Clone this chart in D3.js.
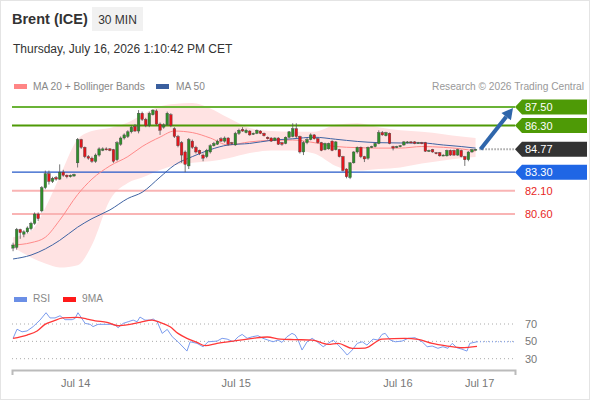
<!DOCTYPE html>
<html>
<head>
<meta charset="utf-8">
<script src="https://cdn.jsdelivr.net/npm/d3@7"></script>
<style>
  html, body { margin: 0; padding: 0; background: #fff; }
  svg { display: block; font-family: "Liberation Sans", Arial, sans-serif; }
</style>
</head>
<body>
<div id="chart"></div>
<script>
// 30 min candles, [open, high, low, close]
const candles = [
  [78.40, 78.75, 78.20, 78.60], [78.45, 79.70, 78.30, 79.60], [79.60, 79.65, 79.00, 79.40], [79.30, 79.55, 79.10, 79.45],
  [79.45, 79.80, 79.35, 79.70], [79.65, 80.10, 79.55, 80.00], [80.00, 80.70, 79.90, 80.60], [80.60, 80.70, 80.15, 80.30],
  [80.80, 82.40, 80.70, 82.30], [82.30, 83.40, 82.20, 83.20], [83.20, 83.40, 82.50, 82.70], [82.70, 83.00, 82.60, 82.90],
  [82.95, 83.05, 82.75, 82.85], [82.85, 83.80, 82.80, 83.30], [83.30, 83.45, 83.00, 83.10], [83.10, 83.15, 82.90, 83.00],
  [83.00, 83.15, 82.95, 83.10], [83.05, 83.20, 83.00, 83.15], [83.90, 85.50, 83.60, 85.40], [85.40, 85.45, 84.80, 84.90],
  [84.90, 84.95, 84.20, 84.30], [84.30, 84.40, 84.10, 84.20], [84.20, 84.30, 83.90, 84.00], [84.00, 84.50, 83.90, 84.40],
  [84.40, 84.90, 84.30, 84.80], [84.70, 84.90, 84.65, 84.80], [84.80, 84.90, 84.70, 84.75], [84.80, 84.85, 84.65, 84.70],
  [84.75, 84.80, 83.90, 84.00], [84.10, 85.30, 84.00, 85.20], [85.10, 85.60, 85.00, 85.50], [85.50, 85.80, 85.40, 85.70],
  [85.60, 86.00, 85.50, 85.90], [85.90, 86.30, 85.80, 86.20], [86.25, 86.40, 85.90, 85.95], [85.95, 87.30, 85.80, 87.10],
  [87.10, 87.20, 86.60, 86.70], [86.70, 86.80, 86.20, 86.30], [86.30, 87.20, 86.20, 87.10], [87.00, 87.35, 86.95, 87.30],
  [87.25, 87.35, 86.30, 86.40], [86.40, 86.50, 85.70, 86.00], [86.20, 86.45, 86.10, 86.35], [86.35, 87.20, 86.30, 87.10],
  [87.00, 87.10, 86.20, 86.30], [86.10, 86.20, 85.50, 85.60], [85.60, 85.70, 84.90, 85.00], [85.20, 85.30, 83.90, 84.40],
  [84.60, 84.70, 83.30, 83.80], [83.70, 85.50, 83.50, 85.40], [85.30, 85.40, 84.80, 84.90], [84.90, 85.00, 84.50, 84.60],
  [84.70, 84.75, 84.40, 84.50], [84.40, 84.50, 84.00, 84.20], [84.30, 84.80, 84.20, 84.70], [84.60, 85.10, 84.50, 85.00],
  [85.00, 85.25, 84.95, 85.15], [85.10, 85.40, 85.05, 85.30], [85.45, 85.55, 85.25, 85.30], [85.30, 85.60, 85.20, 85.50],
  [85.50, 85.55, 85.00, 85.10], [85.20, 85.25, 85.05, 85.15], [85.05, 85.90, 85.00, 85.80], [85.80, 86.10, 85.70, 86.00],
  [86.05, 86.20, 85.90, 85.95], [85.85, 86.10, 85.80, 86.00], [85.95, 86.00, 85.65, 85.70], [85.75, 85.85, 85.70, 85.80],
  [85.80, 86.05, 85.75, 86.00], [85.95, 86.00, 85.75, 85.80], [85.80, 85.85, 85.60, 85.65], [85.55, 85.60, 85.40, 85.45],
  [85.50, 85.55, 85.25, 85.30], [85.35, 85.55, 85.30, 85.50], [85.50, 85.55, 85.05, 85.10], [85.20, 85.25, 85.00, 85.10],
  [85.15, 85.60, 85.10, 85.55], [85.55, 85.95, 85.50, 85.90], [85.60, 86.45, 85.55, 86.10], [86.10, 86.45, 85.50, 85.60],
  [85.60, 85.65, 84.50, 84.60], [84.60, 85.30, 84.40, 85.20], [85.20, 85.50, 85.10, 85.40], [85.40, 85.80, 85.35, 85.70],
  [85.70, 85.75, 85.40, 85.45], [85.45, 85.50, 85.15, 85.20], [85.20, 85.25, 84.65, 84.70], [84.75, 85.20, 84.70, 85.15],
  [84.80, 85.20, 84.75, 85.15], [85.30, 85.35, 84.65, 84.70], [84.75, 85.30, 84.70, 85.25], [84.75, 84.80, 84.25, 84.30],
  [84.30, 84.35, 83.35, 83.40], [83.50, 83.55, 82.90, 83.00], [82.95, 83.95, 82.85, 83.90], [83.90, 84.65, 83.85, 84.60],
  [84.60, 84.95, 84.50, 84.90], [84.90, 84.95, 84.20, 84.30], [84.30, 84.35, 83.95, 84.15], [84.20, 84.95, 84.10, 84.90],
  [84.90, 85.00, 84.85, 84.95], [84.95, 85.20, 84.90, 85.15], [85.15, 86.00, 85.10, 85.85], [85.85, 85.95, 85.65, 85.70],
  [85.65, 85.90, 85.60, 85.85], [85.80, 85.85, 85.10, 85.15], [84.95, 85.00, 84.70, 84.85], [84.90, 85.00, 84.85, 84.95],
  [84.95, 85.05, 84.90, 85.00], [85.05, 85.30, 85.00, 85.25], [85.20, 85.30, 85.15, 85.25], [85.25, 85.30, 85.15, 85.20],
  [85.25, 85.30, 85.10, 85.15], [85.20, 85.25, 85.15, 85.20], [85.20, 85.25, 85.10, 85.15], [85.20, 85.25, 84.60, 84.65],
  [84.65, 84.75, 84.60, 84.70], [84.75, 84.80, 84.55, 84.60], [84.55, 84.60, 84.45, 84.50], [84.55, 84.60, 84.30, 84.35],
  [84.40, 84.45, 84.35, 84.40], [84.35, 84.75, 84.30, 84.70], [84.70, 84.75, 84.35, 84.40], [84.70, 84.75, 84.35, 84.40],
  [84.40, 84.80, 84.35, 84.75], [84.70, 84.75, 84.25, 84.30], [84.30, 84.35, 83.70, 84.10], [84.10, 84.65, 84.00, 84.60],
  [84.60, 84.80, 84.55, 84.75], [84.75, 84.80, 84.70, 84.77]
];

// indicator samples (bar index -> value)
const bandIdx   = [0, 5, 9, 13, 18, 22, 27, 32, 36, 41, 45, 50, 55, 60, 66, 72, 78, 84, 90, 96, 102, 108, 114, 120, 125, 129];
const bandUpper = [79.1, 79.5, 81.0, 83.0, 85.4, 85.95, 86.15, 86.5, 87.0, 87.55, 87.7, 87.75, 87.4, 86.8, 86.15, 85.95, 85.9, 85.9, 86.35, 86.45, 86.2, 86.0, 85.9, 85.75, 85.6, 85.5];
const bandLower = [78.47, 77.8, 77.4, 77.15, 77.3, 78.6, 81.5, 82.6, 82.95, 83.44, 83.75, 83.9, 84.0, 84.2, 84.53, 84.7, 84.7, 84.5, 83.7, 83.4, 83.5, 83.6, 83.85, 84.05, 84.2, 84.27];
const ma20      = [78.6, 78.75, 79.1, 80.2, 81.85, 82.85, 83.7, 84.3, 84.95, 85.56, 85.95, 85.85, 85.5, 85.05, 85.25, 85.35, 85.37, 85.2, 84.95, 84.88, 84.85, 84.85, 84.95, 84.9, 84.8, 84.66];
const ma50      = [77.7, 77.95, 78.35, 78.9, 79.75, 80.3, 80.86, 81.6, 82.0, 82.98, 83.75, 84.3, 84.75, 85.05, 85.15, 85.35, 85.45, 85.55, 85.42, 85.28, 85.2, 85.18, 85.18, 85.05, 84.95, 84.85];

const rsi = [
  [0, 53.5], [1.1, 64], [2.5, 61], [3.9, 62], [5.6, 67], [7.5, 74.5], [9.2, 83], [10.3, 77], [11.7, 77], [13.1, 79.5],
  [14.5, 75], [16.5, 75], [17.3, 76.5], [18.1, 83], [20.1, 70.7], [21.5, 69.6], [22.3, 67], [23.7, 69.6], [25.1, 69.6],
  [27.1, 69.6], [28.5, 68.8], [29.3, 65.7], [30.7, 70.7], [32.1, 72.6], [33.5, 74.5], [34.6, 72.6], [35.4, 78], [36.8, 74.5],
  [38.2, 74.5], [39.1, 75.7], [40.2, 72.6], [41.6, 59.2], [43, 63.8], [44.4, 55.3], [46, 49.5], [48.5, 38.8], [49.4, 49.5],
  [51.3, 47.7], [53, 43.8], [54.4, 49.5], [56.9, 50.3], [58.3, 53.5], [59.7, 52.6], [61.4, 49.5], [62.8, 55.3], [63.9, 58],
  [65.3, 53.5], [66.7, 55.3], [68.3, 56.5], [69.7, 53.5], [71.1, 51.5], [72.5, 49.5], [73.9, 51.5], [75, 48.8], [76.4, 55.3],
  [77.8, 59.2], [78.7, 57.3], [79.5, 51.5], [80.6, 40], [82, 49.5], [83.4, 53.5], [84.8, 49.5], [86.5, 43.8], [87.9, 47.7],
  [89.3, 51.5], [90.7, 45.7], [92, 40], [93.2, 34.2], [94.6, 40], [96, 47.7], [97.4, 49.5], [98.7, 45.7], [100.4, 52.6],
  [101.8, 51.5], [102.9, 58], [103.8, 59.2], [105.2, 51.5], [106.6, 49.5], [108.5, 50.3], [110.2, 53.5], [112.1, 54.2],
  [114.1, 49.5], [115.5, 43.8], [116.9, 44.6], [118.5, 42], [119.9, 43.8], [121.3, 42], [122.5, 47.7], [123.8, 42.6],
  [125.2, 41], [126.6, 38.8], [127.4, 47.7], [129.4, 49.5]
];
const rsiMA = [
  [0, 53.5], [3.9, 57.3], [6.7, 62], [8.9, 69.6], [11.2, 73.4], [13.9, 77], [17.9, 77.6], [20.6, 75.7], [22.9, 73.7],
  [26.2, 71.9], [29.3, 68], [32.6, 69.6], [35.4, 71.9], [38.8, 74.5], [41, 71.9], [43.8, 66.8], [46, 59.2], [48.5, 53.5],
  [51.3, 48.8], [53.6, 45], [56.9, 47.7], [61.4, 50.3], [66.9, 53.5], [70.9, 55], [74.5, 52.6], [78.4, 52], [83.4, 51.5],
  [87.9, 46.5], [90.7, 47.7], [94.6, 42], [98.2, 42.3], [102.9, 52.6], [109.3, 53.5], [113, 52.3], [116.9, 47.7],
  [121.3, 44.6], [125.2, 42.6], [129.4, 44.2]
];

const levelValues = [87.50, 86.30, 83.30, 82.10, 80.60];
const levelKinds  = ["r2", "r1", "s1", "s2", "s3"];
const lastPrice = 84.77;
const targetPrice = 87.50;
const rsiLevels = [70, 50, 30];
const dayTicks  = [17.3, 62.1, 107.2, 130];
const dayLabels = ["Jul 14", "Jul 15", "Jul 16", "Jul 17"];

const W = 590, H = 400;
const left = 12, right = 515;

const kindStyle = {
  r2: { line: "#6ab336", width: 2, tag: "#4e9a06", text: "#fff" },
  r1: { line: "#4e9a06", width: 2, tag: "#4e9a06", text: "#fff" },
  s1: { line: "#2458c8", width: 1.2, tag: "#1f66e5", text: "#fff" },
  s2: { line: "#f9b4b4", width: 2, tag: null, text: "#e8261e" },
  s3: { line: "#f9b4b4", width: 2, tag: null, text: "#e8261e" }
};

const svg = d3.select("#chart").append("svg")
  .attr("width", W)
  .attr("height", H);

svg.append("rect")
  .attr("x", 0.5).attr("y", 0.5)
  .attr("width", W - 1).attr("height", H - 1)
  .attr("fill", "#fff")
  .attr("stroke", "#e4e4e4");

// Header
svg.append("text")
  .attr("x", 12).attr("y", 24)
  .attr("font-size", 14.5).attr("font-weight", "bold").attr("fill", "#333")
  .text("Brent (ICE)");

svg.append("rect")
  .attr("x", 92).attr("y", 7).attr("width", 51).attr("height", 24)
  .attr("fill", "#f1f1f1");
svg.append("text")
  .attr("x", 117.5).attr("y", 23.5).attr("text-anchor", "middle")
  .attr("font-size", 12).attr("fill", "#333")
  .text("30 MIN");

svg.append("text")
  .attr("x", 13).attr("y", 53)
  .attr("font-size", 12).attr("fill", "#333")
  .text("Thursday, July 16, 2026 1:10:42 PM CET");

// Legend
const legend = svg.append("g").attr("font-size", 10.2).attr("fill", "#888");
legend.append("rect").attr("x", 14).attr("y", 84).attr("width", 13).attr("height", 5).attr("fill", "#ff8585");
legend.append("text").attr("x", 33).attr("y", 90).text("MA 20 + Bollinger Bands");
legend.append("rect").attr("x", 156).attr("y", 84).attr("width", 13).attr("height", 5).attr("fill", "#3a5f9e");
legend.append("text").attr("x", 176).attr("y", 90).text("MA 50");
legend.append("text").attr("x", 584).attr("y", 90).attr("text-anchor", "end").attr("fill", "#999")
  .text("Research \u00a9 2026 Trading Central");

// Scales
const x = d3.scaleLinear().domain([-0.3, 140]).range([left, right]);
const y = d3.scaleLinear().domain([80.6, 87.5]).range([214, 107]);
const ry = d3.scaleLinear().domain([30, 70]).range([358.7, 324]);

// Bollinger band
const band = d3.area()
  .x((d, i) => x(bandIdx[i]))
  .y0((d, i) => y(bandLower[i]))
  .y1((d, i) => y(bandUpper[i]))
  .curve(d3.curveMonotoneX);
svg.append("path").datum(bandUpper).attr("d", band).attr("fill", "#ffe3e3");

// Level lines
levelValues.forEach((v, i) => {
  const s = kindStyle[levelKinds[i]];
  svg.append("line")
    .attr("x1", left).attr("x2", right)
    .attr("y1", y(v)).attr("y2", y(v))
    .attr("stroke", s.line).attr("stroke-width", s.width);
});

// Moving averages
const maLine = (vals) => d3.line()
  .x((d, i) => x(bandIdx[i]))
  .y(d => y(d))
  .curve(d3.curveMonotoneX)(vals);
svg.append("path").attr("d", maLine(ma20)).attr("fill", "none").attr("stroke", "#ff8a8a").attr("stroke-width", 1);
svg.append("path").attr("d", maLine(ma50)).attr("fill", "none").attr("stroke", "#3f63a3").attr("stroke-width", 1);

// Candles
const bw = 2.6;
const cg = svg.append("g").attr("class", "candles");
candles.forEach((c, i) => {
  const [o, h, l, cl] = c;
  const up = cl >= o;
  cg.append("line")
    .attr("x1", x(i)).attr("x2", x(i))
    .attr("y1", y(h)).attr("y2", y(l))
    .attr("stroke", "#555").attr("stroke-width", 0.8);
  const top = y(Math.max(o, cl));
  const hgt = Math.max(1, Math.abs(y(o) - y(cl)));
  cg.append("rect")
    .attr("x", x(i) - bw / 2).attr("y", top)
    .attr("width", bw).attr("height", hgt)
    .attr("fill", up ? "#2f8f2a" : "#e3151c")
    .attr("stroke", "#444").attr("stroke-width", 0.4);
});

// Current price dotted line
const lastX = x(candles.length - 1);
svg.append("line")
  .attr("x1", lastX + 4).attr("x2", right)
  .attr("y1", y(lastPrice)).attr("y2", y(lastPrice))
  .attr("stroke", "#777").attr("stroke-width", 2)
  .attr("stroke-dasharray", "1,2");

// Target arrow
const ax0 = lastX + 5, ay0 = y(lastPrice);
const ax1 = right - 2, ay1 = y(targetPrice) + 1;
const ang = Math.atan2(ay1 - ay0, ax1 - ax0);
const headL = 11, headW = 6;
const bx = ax1 - headL * Math.cos(ang), by = ay1 - headL * Math.sin(ang);
svg.append("line")
  .attr("x1", ax0).attr("y1", ay0).attr("x2", bx).attr("y2", by)
  .attr("stroke", "#2f66ab").attr("stroke-width", 4);
svg.append("polygon")
  .attr("points", [
    [ax1, ay1],
    [bx + headW * Math.sin(ang), by - headW * Math.cos(ang)],
    [bx - headW * Math.sin(ang), by + headW * Math.cos(ang)]
  ].map(p => p.join(",")).join(" "))
  .attr("fill", "#2f66ab");

// Right side tags
function tag(v, fill, textFill) {
  const cy = y(v);
  if (fill) {
    svg.append("polygon")
      .attr("points", `${right},${cy} ${right + 7},${cy - 7.5} 587,${cy - 7.5} 587,${cy + 7.5} ${right + 7},${cy + 7.5}`)
      .attr("fill", fill);
  }
  svg.append("text")
    .attr("x", 525).attr("y", cy).attr("dy", "0.36em")
    .attr("font-size", 11).attr("fill", textFill)
    .text(v.toFixed(2));
}
levelValues.forEach((v, i) => {
  const s = kindStyle[levelKinds[i]];
  tag(v, s.tag, s.text);
});
tag(lastPrice, "#333", "#fff");

// RSI panel
const rl = svg.append("g").attr("font-size", 10.2).attr("fill", "#888");
rl.append("rect").attr("x", 14).attr("y", 297).attr("width", 13).attr("height", 5).attr("fill", "#6b8fe6");
rl.append("text").attr("x", 33).attr("y", 302).text("RSI");
rl.append("rect").attr("x", 63).attr("y", 297).attr("width", 13).attr("height", 5).attr("fill", "#ff1a1a");
rl.append("text").attr("x", 82).attr("y", 302).text("9MA");

rsiLevels.forEach(v => {
  svg.append("line")
    .attr("x1", left).attr("x2", right)
    .attr("y1", ry(v)).attr("y2", ry(v))
    .attr("stroke", "#aaa").attr("stroke-width", 1)
    .attr("stroke-dasharray", "1,3");
  svg.append("text")
    .attr("x", 525).attr("y", ry(v)).attr("dy", "0.36em")
    .attr("font-size", 11).attr("fill", "#777")
    .text(v);
});

const rsiLine = d3.line().x(d => x(d[0])).y(d => ry(d[1]));
svg.append("path").attr("d", rsiLine(rsi)).attr("fill", "none").attr("stroke", "#7b9cee").attr("stroke-width", 1);
const lastRsi = rsi[rsi.length - 1];
svg.append("line")
  .attr("x1", x(lastRsi[0])).attr("x2", right)
  .attr("y1", ry(lastRsi[1])).attr("y2", ry(lastRsi[1]))
  .attr("stroke", "#7b9cee").attr("stroke-width", 1)
  .attr("stroke-dasharray", "1,2");
svg.append("path").attr("d", d3.line().x(d => x(d[0])).y(d => ry(d[1])).curve(d3.curveMonotoneX)(rsiMA))
  .attr("fill", "none").attr("stroke", "#ff3838").attr("stroke-width", 1.3);

// Time axis
const xAxis = d3.axisBottom(x)
  .tickValues(dayTicks)
  .tickFormat((d, i) => dayLabels[i])
  .tickSizeInner(0)
  .tickSizeOuter(5)
  .tickPadding(9);
const ag = svg.append("g").attr("transform", "translate(0,370)").call(xAxis);
ag.select(".domain").attr("stroke", "#bbb").attr("stroke-width", 2);
ag.selectAll("text")
  .attr("font-size", 11).attr("fill", "#777")
  .attr("font-family", "Liberation Sans, Arial, sans-serif");
</script>
</body>
</html>
